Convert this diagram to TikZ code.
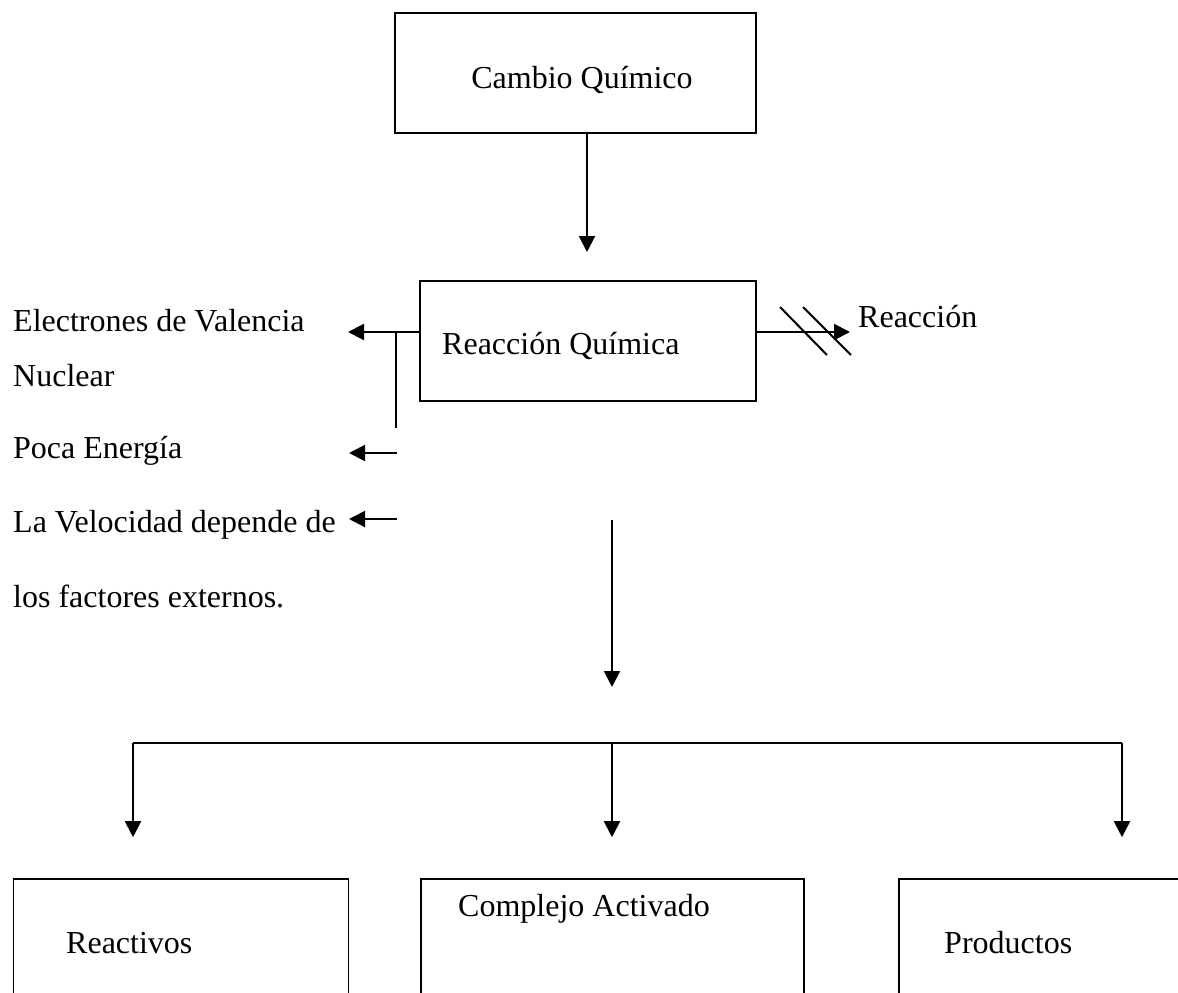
\documentclass[tikz,border=0pt]{standalone}
\usepackage{fontspec}
\setmainfont{Liberation Serif}
\usepackage{tikz}
\usetikzlibrary{arrows.meta}

\begin{document}
\begin{tikzpicture}[x=1pt, y=-1pt,
        caja/.style={draw, line width=1.6pt, rectangle, inner sep=0pt},
        texto/.style={font=\fontsize{32}{38}\selectfont, inner sep=0pt, anchor=base west},
        flecha/.style={line width=2pt, -{Triangle[length=16pt, width=16pt]}},
        linea/.style={line width=2pt}]
        \useasboundingbox (0,0) rectangle (1178,993);
        \clip (0,0) rectangle (1178,993);
        \fill[white] (0,0) rectangle (1178,993);
        \node[caja, minimum width=361, minimum height=120] (cambio) at (575.5,73) {};
        \node[caja, minimum width=336, minimum height=120] (reaccion) at (588,341) {};
        \node[caja, minimum width=335, minimum height=160] (reactivos) at (181,959) {};
        \node[caja, minimum width=383, minimum height=160] (complejo) at (612.5,959) {};
        \node[caja, minimum width=320, minimum height=160] (productos) at (1059,959) {};
        \node[texto, anchor=base] (tcambio) at (582,88) {Cambio Químico};
        \node[texto] (treaccion) at (442,354) {Reacción Química};
        \node[texto] (treactivos) at (66,953) {Reactivos};
        \node[texto] (tcomplejo) at (458,916) {Complejo Activado};
        \node[texto] (tproductos) at (944,953) {Productos};
        \node[texto] (electrones) at (13,331) {Electrones de Valencia};
        \node[texto] (nuclear) at (13,386) {Nuclear};
        \node[texto] (poca) at (13,458) {Poca Energía};
        \node[texto] (velocidad) at (13,532) {La Velocidad depende de};
        \node[texto] (factores) at (13,607) {los factores externos.};
        \node[texto] (tipo) at (858,327) {Reacción};
        \coordinate (c1) at (587,252);
        \coordinate (d1) at (850,332);
        \coordinate (i1) at (348,332);
        \coordinate (v1) at (396,332);
        \coordinate (v2) at (396,428);
        \coordinate (i2a) at (397,453);
        \coordinate (i2) at (349,453);
        \coordinate (i3a) at (397,519);
        \coordinate (i3) at (349,519);
        \coordinate (b0) at (612,520);
        \coordinate (b1) at (612,687);
        \coordinate (h1) at (133,743);
        \coordinate (h2) at (612,743);
        \coordinate (h3) at (1122,743);
        \draw[flecha] (cambio.south -| c1) -- (c1);
        \draw[flecha] (reaccion.east |- d1) -- (d1);
        \draw[linea] (780,307) -- (827,355);
        \draw[linea] (803,307) -- (851,355);
        \draw[flecha] (reaccion.west |- i1) -- (i1);
        \draw[linea] (v1) -- (v2);
        \draw[flecha] (i2a) -- (i2);
        \draw[flecha] (i3a) -- (i3);
        \draw[flecha] (b0) -- (b1);
        \draw[linea] (h1) -- (h3);
        \draw[flecha] (h1) -- ([yshift=41pt]h1 |- reactivos.north);
        \draw[flecha] (h2) -- ([yshift=41pt]h2 |- complejo.north);
        \draw[flecha] (h3) -- ([yshift=41pt]h3 |- productos.north);
\end{tikzpicture}
\end{document}
